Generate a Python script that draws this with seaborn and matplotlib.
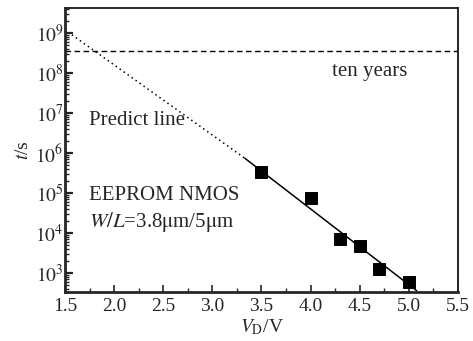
import matplotlib
matplotlib.use("Agg")
import matplotlib.pyplot as plt
import matplotlib.ticker as mticker
import numpy as np
import pandas as pd
import seaborn as sns

# Measured retention time vs drain voltage
drain_v = [3.5, 4.0, 4.3, 4.5, 4.7, 5.0]
retention_s = [3.4e5, 7.5e4, 7.0e3, 4.8e3, 1.25e3, 6.0e2]

# Fitted line over the measured range and its extrapolation
fit_v = [3.33, 5.08]
fit_t = [7.4e5, 3.6e2]
predict_v = [1.57, 3.33]
predict_t = [9.0e8, 7.4e5]

# Ten-year retention criterion
ten_years_s = 3.5e8

x_ticks = [1.5, 2.0, 2.5, 3.0, 3.5, 4.0, 4.5, 5.0, 5.5]
y_ticks = [1e3, 1e4, 1e5, 1e6, 1e7, 1e8, 1e9]

sns.set_style("ticks")
plt.rcParams["font.family"] = ["Liberation Serif", "DejaVu Serif"]
plt.rcParams["mathtext.fontset"] = "stix"

fig = plt.figure(figsize=(4.73, 3.41), dpi=100)
ax = fig.add_axes([0.1374, 0.1437, 0.8309, 0.8328])

pts = pd.DataFrame({"V": drain_v, "t": retention_s})
fit = pd.DataFrame({"V": fit_v, "t": fit_t})
pred = pd.DataFrame({"V": predict_v, "t": predict_t})

sns.lineplot(data=pred, x="V", y="t", ax=ax, color="black", lw=1.1,
             linestyle=(0, (1, 2.2)))
sns.lineplot(data=fit, x="V", y="t", ax=ax, color="black", lw=1.1)
sns.scatterplot(data=pts, x="V", y="t", ax=ax, marker="s", s=75,
                color="black", edgecolor="black", zorder=5)
ax.axhline(ten_years_s, color="black", lw=1.0, linestyle=(0, (4, 2.5)))

ax.set_yscale("log")
ax.set_xlim(1.5, 5.5)
ax.set_ylim(3.35e2, 4.2e9)
ax.set_xticks(x_ticks)
ax.set_xticklabels([f"{v:.1f}" for v in x_ticks])
ax.xaxis.set_minor_locator(mticker.MultipleLocator(0.25))
ax.set_yticks(y_ticks)
ax.set_yticklabels([f"$10^{{{int(np.log10(v))}}}$" for v in y_ticks])
ax.yaxis.set_minor_locator(mticker.LogLocator(base=10, subs=np.arange(2, 10)))
ax.yaxis.set_minor_formatter(mticker.NullFormatter())

ax.tick_params(axis="both", which="both", direction="in", top=False, right=False)
ax.tick_params(axis="x", which="major", length=5, width=1.2, labelsize=14, pad=4)
ax.tick_params(axis="x", which="minor", length=3, width=1.0)
ax.tick_params(axis="y", which="major", length=6, width=1.6, labelsize=14, pad=1)
ax.tick_params(axis="y", which="minor", length=3, width=1.0)

for side in ["left", "bottom"]:
    ax.spines[side].set_linewidth(2.0)
for side in ["top", "right"]:
    ax.spines[side].set_linewidth(1.4)

ax.set_xlabel(r"$V_{\mathrm{D}}$/V", fontsize=14, labelpad=2)
ax.set_ylabel(r"$t$/s", fontsize=14, labelpad=2)

ax.text(1.74, 6.5e6, "Predict line", fontsize=15, va="center", ha="left")
ax.text(4.22, 1.07e8, "ten years", fontsize=15, va="center", ha="left")
ax.text(1.74, 8.5e4, "EEPROM NMOS", fontsize=15, va="center", ha="left")
ax.text(1.74, 1.85e4, r"$W/L$=3.8$\mathrm{\mu}$m/5$\mathrm{\mu}$m",
        fontsize=15, va="center", ha="left")

fig.savefig("out.png", dpi=100)
